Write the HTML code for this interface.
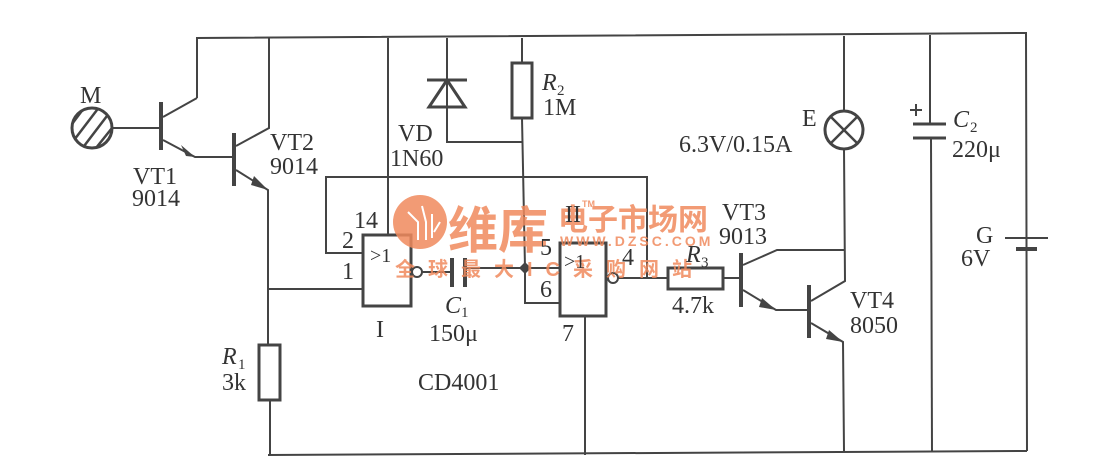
<!DOCTYPE html>
<html><head><meta charset="utf-8"><style>
html,body{margin:0;padding:0;background:#fff;}
svg{display:block;}
text{font-family:"Liberation Serif",serif;fill:#333;}
.w{font-family:"Liberation Sans","Noto Sans CJK SC",sans-serif;fill:#f08a5d;font-weight:bold;}
</style></head><body>
<svg width="1101" height="469" viewBox="0 0 1101 469" xmlns="http://www.w3.org/2000/svg">
<defs><clipPath id="mc"><circle cx="92" cy="128" r="19"/></clipPath></defs>
<g stroke="#444" stroke-width="2" fill="none">
<polyline points="197,98 197,38 1026,33 1027,451"/>
<polyline points="268,455 1027,451"/>
<circle cx="92" cy="128" r="20" stroke-width="3"/>
<g clip-path="url(#mc)" stroke-width="2.5">
<line x1="60" y1="140" x2="90" y2="100"/><line x1="68" y1="148" x2="100" y2="106"/><line x1="78" y1="154" x2="110" y2="112"/><line x1="88" y1="158" x2="120" y2="118"/>
</g>
<line x1="112" y1="128" x2="160" y2="128"/>
<line x1="161" y1="102" x2="161" y2="150" stroke-width="4"/>
<line x1="163" y1="117" x2="197" y2="98"/>
<polyline points="163,140 195,157 233,157"/>
<line x1="234" y1="133" x2="234" y2="186" stroke-width="4"/>
<polyline points="236,146 269,128 269,38"/>
<polyline points="236,170 268,190 268,345"/>
<rect x="259" y="345" width="21" height="55" stroke-width="3"/>
<polyline points="270,400 270,455"/>
<line x1="268" y1="289" x2="363" y2="289"/>
<rect x="363" y="235" width="48" height="71" stroke-width="3"/>
<polyline points="363,253 326,253 326,177 647,177 647,278"/>
<line x1="388" y1="38" x2="388" y2="235"/>
<circle cx="417" cy="272" r="5"/>
<line x1="422" y1="272" x2="452" y2="272"/>
<line x1="452" y1="258" x2="452" y2="287" stroke-width="4"/>
<line x1="465" y1="258" x2="465" y2="287" stroke-width="4"/>
<line x1="465" y1="268" x2="560" y2="268"/>
<polyline points="525,268 525,303 560,303"/>
<rect x="512" y="63" width="20" height="55" stroke-width="3"/>
<line x1="522" y1="38" x2="522" y2="63"/>
<line x1="522" y1="118" x2="525" y2="268"/>
<polyline points="447,38 447,142 522,142"/>
<line x1="427" y1="80" x2="467" y2="80" stroke-width="3"/>
<polygon points="447,80 429,107 465,107" stroke-width="3"/>
<rect x="560" y="243" width="46" height="73" stroke-width="3"/>
<line x1="585" y1="316" x2="585" y2="455"/>
<circle cx="613" cy="278" r="5"/>
<line x1="618" y1="278" x2="668" y2="278"/>
<rect x="668" y="268" width="55" height="21" stroke-width="3"/>
<line x1="723" y1="278" x2="740" y2="278"/>
<line x1="741" y1="253" x2="741" y2="307" stroke-width="4"/>
<polyline points="743,265 777,250 845,250"/>
<polyline points="743,290 776,310 808,310"/>
<line x1="809" y1="285" x2="809" y2="338" stroke-width="4"/>
<polyline points="811,301 845,281 844,149"/>
<line x1="844" y1="111" x2="844" y2="36"/>
<polyline points="811,323 843,342 844,451"/>
<circle cx="844" cy="130" r="19" stroke-width="3"/>
<line x1="831" y1="117" x2="857" y2="143" stroke-width="2.5"/>
<line x1="857" y1="117" x2="831" y2="143" stroke-width="2.5"/>
<line x1="930" y1="35" x2="930" y2="124"/>
<line x1="913" y1="124" x2="946" y2="124" stroke-width="3"/>
<line x1="913" y1="138" x2="946" y2="138" stroke-width="3"/>
<line x1="931" y1="138" x2="932" y2="451"/>
<line x1="910" y1="110" x2="922" y2="110"/>
<line x1="916" y1="104" x2="916" y2="116"/>
<line x1="1005" y1="238" x2="1048" y2="238" stroke-width="2"/>
<line x1="1016" y1="249" x2="1037" y2="249" stroke-width="4"/>
</g>
<g fill="#444">
<polygon points="195,157 181,145 186,156"/>
<polygon points="268,190 254,176 251,185"/>
<polygon points="776,310 762,298 759,307"/>
<polygon points="843,342 829,330 826,339"/>
<polygon points="525,262 531,268 525,274 519,268"/>
</g>
<g opacity="0.85">
<circle cx="420" cy="222" r="27" fill="#f08a5d"/>
<g stroke="#fff" stroke-width="2" fill="none"><path d="M408,212 L418,222 L418,240 M422,206 L426,222 L426,240 M432,214 L432,238 M440,222 L434,232"/></g>
<text x="448" y="248" class="w" font-size="50">维库</text>
<text x="558" y="230" class="w" font-size="30">电子市场网</text>
<text x="560" y="246" class="w" font-size="14" letter-spacing="3">WWW.DZSC.COM</text>
<text x="395" y="276" class="w" font-size="20" letter-spacing="13">全球最大IC采购网站</text>
<text x="582" y="207" class="w" font-size="9">TM</text>
</g>
<g font-size="24">
<text x="80" y="103">M</text>
<text x="133" y="184">VT1</text>
<text x="132" y="206">9014</text>
<text x="270" y="150">VT2</text>
<text x="270" y="174">9014</text>
<text x="398" y="141">VD</text>
<text x="390" y="166">1N60</text>
<text x="542" y="90" font-style="italic">R</text><text x="557" y="95" font-size="15">2</text>
<text x="543" y="115">1M</text>
<text x="354" y="228">14</text>
<text x="342" y="248">2</text>
<text x="342" y="279">1</text>
<text x="370" y="262" font-size="20">&gt;1</text>
<text x="376" y="337">I</text>
<text x="445" y="313" font-style="italic">C</text><text x="461" y="317" font-size="15">1</text>
<text x="429" y="341">150μ</text>
<text x="418" y="390">CD4001</text>
<text x="222" y="364" font-style="italic">R</text><text x="238" y="369" font-size="15">1</text>
<text x="222" y="390">3k</text>
<text x="540" y="255">5</text>
<text x="540" y="297">6</text>
<text x="565" y="222">II</text>
<text x="564" y="268" font-size="20">&gt;1</text>
<text x="622" y="265">4</text>
<text x="562" y="341">7</text>
<text x="686" y="262" font-style="italic">R</text><text x="701" y="267" font-size="15">3</text>
<text x="672" y="313">4.7k</text>
<text x="722" y="220">VT3</text>
<text x="719" y="244">9013</text>
<text x="850" y="308">VT4</text>
<text x="850" y="333">8050</text>
<text x="802" y="126">E</text>
<text x="679" y="152">6.3V/0.15A</text>
<text x="953" y="127" font-style="italic">C</text><text x="970" y="132" font-size="15">2</text>
<text x="952" y="157">220μ</text>
<text x="976" y="243">G</text>
<text x="961" y="266">6V</text>
</g>
</svg>
</body></html>
